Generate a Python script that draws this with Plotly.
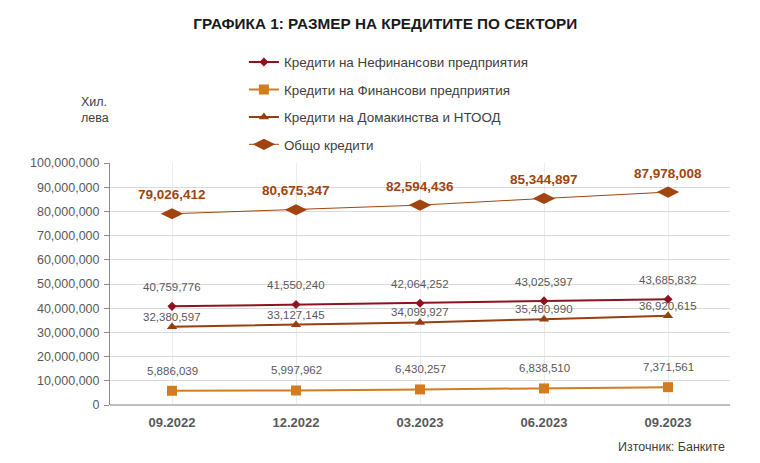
import plotly.graph_objects as go

quarters = ["09.2022", "12.2022", "03.2023", "06.2023", "09.2023"]
non_financial = [40759776, 41550240, 42064252, 43025397, 43685832]
financial = [5886039, 5997962, 6430257, 6838510, 7371561]
households = [32380597, 33127145, 34099927, 35480990, 36920615]
total = [79026412, 80675347, 82594436, 85344897, 87978008]

names = ["Кредити на Нефинансови предприятия",
         "Кредити на Финансови предприятия",
         "Кредити на Домакинства и НТООД",
         "Общо кредити"]

FONT = "Liberation Sans Narrow, Arial Narrow, Liberation Sans, Arial"

fig = go.Figure()

series = [
    (non_financial, names[0], "#8e1320", "diamond", 7, 2),
    (financial, names[1], "#d37b1f", "square", 10, 2),
    (households, names[2], "#983f12", "triangle-up", 9, 2),
    (total, names[3], "#a2440f", "diamond-wide", 16, 1),
]

for i, (vals, name, color, symbol, msize, lw) in enumerate(series):
    fig.add_trace(go.Scatter(
        x=quarters, y=vals, name=name, mode="lines+markers",
        line=dict(color=color, width=lw),
        marker=dict(symbol=symbol, size=msize, color=color),
        legendgroup=str(i),
    ))

# data labels (x given as category index, the labels look numeric)
labels = [(non_financial, 19, False), (financial, 20, False),
          (households, 10, False), (total, 19, True)]
for vals, shift, bold in labels:
    for i, v in enumerate(vals):
        fig.add_annotation(
            x=i, y=v, text=f"{v:,}", showarrow=False, yshift=shift,
            font=dict(family=FONT, size=13.5 if bold else 11.5,
                      color="#a2440f" if bold else "#595959",
                      weight="bold" if bold else "normal"),
        )

fig.add_annotation(xref="paper", yref="paper", x=-0.05, y=1.29, xanchor="left",
                   text="Хил.<br>лева", showarrow=False, align="left",
                   font=dict(family=FONT, size=12.5, color="#404040"))
fig.add_annotation(xref="paper", yref="paper", x=0.995, y=-0.21, xanchor="right",
                   text="Източник: Банките", showarrow=False,
                   font=dict(family=FONT, size=12.5, color="#404040"))

fig.update_layout(
    width=760, height=463,
    margin=dict(l=110, r=30, t=163, b=58),
    paper_bgcolor="white", plot_bgcolor="white",
    title=dict(text="<b>ГРАФИКА 1: РАЗМЕР НА КРЕДИТИТЕ ПО СЕКТОРИ</b>",
               x=0.507, xanchor="center", y=0.95, yanchor="middle",
               font=dict(family=FONT, size=15.3, color="#1a1a1a")),
    legend=dict(x=0.216, y=1.48, xanchor="left", yanchor="top",
                font=dict(family=FONT, size=13.4, color="#404040"),
                tracegroupgap=7, bgcolor="rgba(0,0,0,0)"),
    showlegend=True,
)

fig.update_xaxes(
    range=[-0.5, 4.5], showgrid=True, gridcolor="#ececec",
    showline=False, ticks="", tickfont=dict(family=FONT, size=13, color="#595959", weight="bold"),
    ticklabelstandoff=8,
)
fig.update_yaxes(
    range=[0, 100000000], dtick=10000000, tickformat=",d",
    showgrid=True, gridcolor="#d9d9d9", zeroline=True, zerolinecolor="#bfbfbf",
    showline=True, linecolor="#8c8c8c", ticks="outside", ticklen=5, tickcolor="#8c8c8c",
    ticklabelstandoff=2,
    tickfont=dict(family=FONT, size=12.5, color="#595959"),
)

fig.write_html("out.html", config={"displayModeBar": False},
               post_script="document.body.style.margin='0';")
